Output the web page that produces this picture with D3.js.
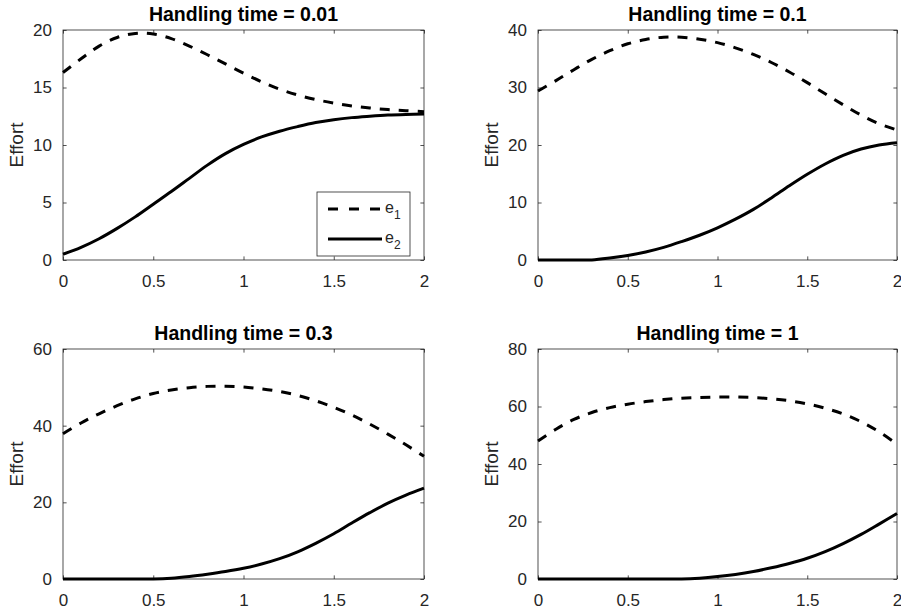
<!DOCTYPE html>
<html>
<head>
<meta charset="utf-8">
<script src="https://cdn.jsdelivr.net/npm/d3@7"></script>
<style>
  html, body { margin: 0; padding: 0; background: #fff; }
  svg { display: block; }
  text { font-family: "Liberation Sans", Arial, Helvetica, sans-serif; }
</style>
</head>
<body>
<svg id="chart" width="901" height="615"></svg>
<script>
// ---- data ----
const xValues = [0,0.1,0.2,0.3,0.4,0.5,0.6,0.7,0.8,0.9,1.0,1.1,1.2,1.3,1.4,1.5,1.6,1.7,1.8,1.9,2.0];
const titles = ["Handling time = 0.01","Handling time = 0.1","Handling time = 0.3","Handling time = 1"];
const yMax = [20, 40, 60, 80];
const yTicks = [[0,5,10,15,20],[0,10,20,30,40],[0,20,40,60],[0,20,40,60,80]];
const xTicks = [0, 0.5, 1, 1.5, 2];
const xTickLabels = ["0","0.5","1","1.5","2"];
const yLabel = "Effort";
const seriesNames = ["e1","e2"];

const e1_h001 = [16.3,17.5,18.6,19.35,19.7,19.65,19.25,18.6,17.85,17.05,16.25,15.5,14.85,14.35,13.95,13.65,13.4,13.22,13.08,12.98,12.9];
const e2_h001 = [0.5,1.1,1.85,2.75,3.75,4.85,5.95,7.1,8.25,9.25,10.05,10.7,11.2,11.6,11.95,12.2,12.38,12.5,12.6,12.66,12.7];
const e1_h01  = [29.4,31.2,33.1,34.9,36.4,37.6,38.35,38.75,38.75,38.4,37.8,36.9,35.75,34.35,32.7,30.85,28.9,27.0,25.2,23.7,22.6];
const e2_h01  = [0,0,0,0.02,0.35,0.8,1.4,2.2,3.2,4.3,5.6,7.1,8.8,10.8,12.9,14.9,16.7,18.2,19.3,20.0,20.4];
const e1_h03  = [37.9,40.7,43.1,45.2,47.0,48.4,49.3,49.9,50.25,50.3,50.1,49.6,48.9,47.9,46.5,44.8,42.8,40.4,37.8,35.0,32.0];
const e2_h03  = [0,0,0,0,0,0,0.2,0.65,1.25,1.95,2.8,3.9,5.3,7.1,9.3,11.8,14.6,17.3,19.8,21.9,23.7];
const e1_h1   = [48.0,52.1,55.5,57.9,59.6,60.8,61.7,62.4,62.9,63.15,63.3,63.3,63.1,62.7,62.0,60.9,59.4,57.4,54.7,51.2,46.9];
const e2_h1   = [0,0,0,0,0,0,0,0,0,0.3,0.85,1.6,2.6,3.9,5.4,7.2,9.5,12.3,15.5,19.1,22.8];

const panelData = [[e1_h001,e2_h001],[e1_h01,e2_h01],[e1_h03,e2_h03],[e1_h1,e2_h1]];

// ---- layout ----
const panels = [
  {x0:63,  x1:424, y0:30,  y1:260},
  {x0:538, x1:897, y0:30,  y1:260},
  {x0:63,  x1:424, y0:349, y1:579},
  {x0:538, x1:897, y0:349, y1:579}
];
const axisColor = "#262626";
const tickLen = 3.6;

const svg = d3.select("#chart");

panels.forEach((p, i) => {
  const x = d3.scaleLinear().domain([0, 2]).range([p.x0, p.x1]);
  const y = d3.scaleLinear().domain([0, yMax[i]]).range([p.y1, p.y0]);
  const g = svg.append("g");

  const clipId = "clip" + i;
  g.append("clipPath").attr("id", clipId)
    .append("rect").attr("x", p.x0 - 2).attr("y", p.y0 - 2)
    .attr("width", p.x1 - p.x0 + 4).attr("height", p.y1 - p.y0 + 4);

  const xAxis = d3.axisBottom(x).tickValues(xTicks)
    .tickFormat((d, k) => xTickLabels[k]).tickSizeInner(-tickLen).tickSizeOuter(0).tickPadding(15);
  const gx = g.append("g").attr("transform", `translate(0,${p.y1})`).call(xAxis);
  const gxt = g.append("g").attr("transform", `translate(0,${p.y0})`)
    .call(d3.axisTop(x).tickValues(xTicks).tickFormat("").tickSizeInner(-tickLen).tickSizeOuter(0));
  const yAxis = d3.axisLeft(y).tickValues(yTicks[i]).tickFormat(d3.format("d"))
    .tickSizeInner(-tickLen).tickSizeOuter(0).tickPadding(11);
  const gy = g.append("g").attr("transform", `translate(${p.x0},0)`).call(yAxis);
  const gyr = g.append("g").attr("transform", `translate(${p.x1},0)`)
    .call(d3.axisRight(y).tickValues(yTicks[i]).tickFormat("").tickSizeInner(-tickLen).tickSizeOuter(0));

  [gx, gxt, gy, gyr].forEach(a => {
    a.select(".domain").remove();
    a.selectAll(".tick line").attr("stroke", axisColor).attr("stroke-width", 0.8);
    a.selectAll(".tick text").attr("fill", axisColor)
      .style("font-family", '"Liberation Sans", Arial, sans-serif').style("font-size", "17px");
  });

  g.append("rect").attr("x", p.x0).attr("y", p.y0)
    .attr("width", p.x1 - p.x0).attr("height", p.y1 - p.y0)
    .attr("fill", "none").attr("stroke", axisColor).attr("stroke-width", 0.8);

  const line = d3.line().x((d, k) => x(xValues[k])).y(d => y(d)).curve(d3.curveCatmullRom.alpha(0.5));
  const lg = g.append("g").attr("clip-path", `url(#${clipId})`);
  lg.append("path").datum(panelData[i][0]).attr("d", line)
    .attr("fill", "none").attr("stroke", "#000").attr("stroke-width", 3)
    .attr("stroke-dasharray", "10,9");
  lg.append("path").datum(panelData[i][1]).attr("d", line)
    .attr("fill", "none").attr("stroke", "#000").attr("stroke-width", 3);

  g.append("text").attr("x", (p.x0 + p.x1) / 2).attr("y", p.y0 - 9)
    .attr("text-anchor", "middle").attr("font-weight", "bold")
    .attr("font-size", 19.5).attr("fill", "#000").text(titles[i]);

  g.append("text").attr("transform", `translate(${p.x0 - 40},${(p.y0 + p.y1) / 2}) rotate(-90)`)
    .attr("text-anchor", "middle").attr("font-size", 19).attr("fill", axisColor).text(yLabel);

  if (i === 0) {
    const lx0 = 317, ly0 = 192, lw = 93, lh = 64;
    const leg = g.append("g");
    leg.append("rect").attr("x", lx0).attr("y", ly0).attr("width", lw).attr("height", lh)
      .attr("fill", "#fff").attr("stroke", axisColor).attr("stroke-width", 0.8);
    const rows = [{y: 209, dash: "10,11"}, {y: 239, dash: null}];
    rows.forEach((r, k) => {
      const ln = leg.append("line").attr("x1", 328).attr("x2", 382).attr("y1", r.y).attr("y2", r.y)
        .attr("stroke", "#000").attr("stroke-width", 3);
      if (r.dash) ln.attr("stroke-dasharray", r.dash);
      const t = leg.append("text").attr("x", 385).attr("y", r.y + 4).attr("font-size", 16).attr("fill", axisColor);
      t.append("tspan").text(seriesNames[k].charAt(0));
      t.append("tspan").attr("dy", 6).attr("font-size", 12).text(seriesNames[k].slice(1));
    });
  }
});
</script>
</body>
</html>
